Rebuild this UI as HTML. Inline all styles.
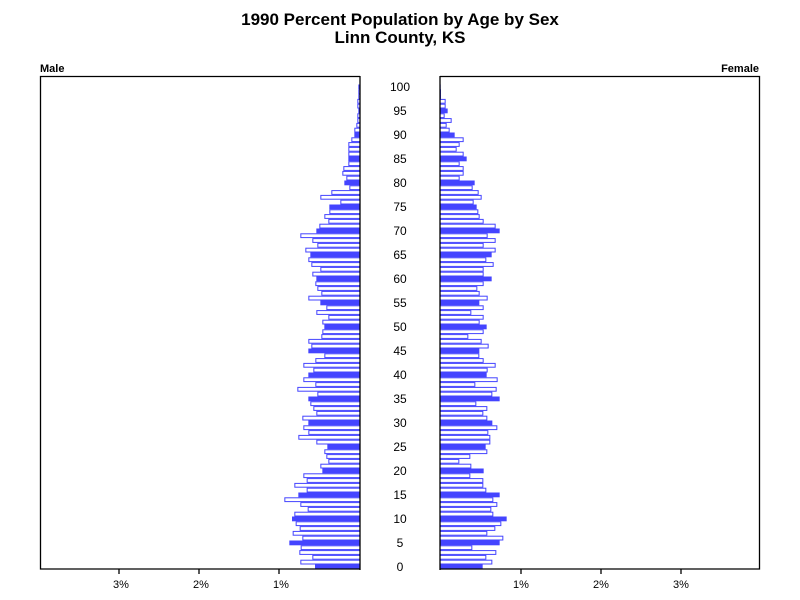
<!DOCTYPE html>
<html><head><meta charset="utf-8"><style>
body{margin:0;background:#fff;}
svg{display:block;font-family:"Liberation Sans",Arial,sans-serif;}
</style></head><body>
<svg id="s" width="800" height="600" xmlns="http://www.w3.org/2000/svg">
<rect width="800" height="600" fill="#fff"/>
<text x="400" y="25" text-anchor="middle" font-size="17" font-weight="bold">1990 Percent Population by Age by Sex</text>
<text x="400" y="43" text-anchor="middle" font-size="17" font-weight="bold">Linn County, KS</text>
<text x="40" y="72" font-size="11" font-weight="bold">Male</text>
<text x="759" y="72" font-size="11" font-weight="bold" text-anchor="end">Female</text>
<g id="bars"></g>
<g stroke="#000" stroke-width="1.3" fill="none">
<polyline points="360,76.5 40.5,76.5 40.5,569 360,569"/>
<line x1="360" y1="76" x2="360" y2="570"/>
<polyline points="440,76.5 759.5,76.5 759.5,569 440,569"/>
<line x1="440" y1="76" x2="440" y2="570"/>
<line x1="119" y1="569" x2="119" y2="574"/><line x1="199" y1="569" x2="199" y2="574"/><line x1="279" y1="569" x2="279" y2="574"/>
<line x1="521" y1="569" x2="521" y2="574"/><line x1="601" y1="569" x2="601" y2="574"/><line x1="681" y1="569" x2="681" y2="574"/>
</g>
<g font-size="11" text-anchor="middle">
<text x="121" y="588">3%</text><text x="201" y="588">2%</text><text x="281" y="588">1%</text>
<text x="521" y="588">1%</text><text x="601" y="588">2%</text><text x="681" y="588">3%</text>
</g>
<g id="ages" font-size="12" text-anchor="middle"></g>
</svg>
<script>
(function(){
var L=[135,91,127,88,92,58,97,68,89,77,66,73,113,91,43,85,110,73,110,100,157,151,175,169,163,172,139,85,115,100,115,97,139,130,121,115,142,82,136,100,115,130,100,136,163,115,124,115,154,157,163,157,175,139,169,151,115,154,142,136,139,127,151,124,115,121,106,142,127,91,139,148,175,163,178,178,211,151,184,238,223,229,217,220,235,235,235,235,235,244,253,253,259,262,262,265,262,262,265,265,265];
var R=[638,667,649,679,607,689,700,652,676,694,710,670,664,682,670,689,649,640,640,601,641,604,568,601,652,647,661,661,655,682,667,652,640,652,619,689,667,680,616,683,650,653,677,641,628,628,656,635,595,641,650,629,641,604,641,628,653,629,622,641,665,641,641,671,649,665,677,641,677,653,689,677,641,629,625,620,611,635,626,608,614,569,581,581,569,590,581,560,569,581,554,539,530,545,524,533,527,527,512,512,512];
var g=document.getElementById('bars'),h='';
for(var a=0;a<=100;a++){
 var yy=564.5-4.8*a,f=(a%5==0);
 var lx=270+L[a]/3, rx=270+R[a]/3;
 var lw=360-lx, rw=rx-440;
 if(f){h+='<rect x="'+lx+'" y="'+yy+'" width="'+lw+'" height="4.8" fill="#4444ff"/>';
       h+='<rect x="440" y="'+yy+'" width="'+rw+'" height="4.8" fill="#4444ff"/>';}
 else{h+='<rect x="'+(lx+0.5)+'" y="'+(yy+0.5)+'" width="'+Math.max(lw-0.5,0.5)+'" height="3.8" fill="#fff" stroke="#4444ff" stroke-width="1"/>';
      h+='<rect x="440" y="'+(yy+0.5)+'" width="'+Math.max(rw-0.5,0.5)+'" height="3.8" fill="#fff" stroke="#4444ff" stroke-width="1"/>';}
}
g.innerHTML=h;
var t='';
for(var a=0;a<=100;a+=5){t+='<text x="400" y="'+(571-4.8*a)+'">'+a+'</text>';}
document.getElementById('ages').innerHTML=t;
})();
</script>
</body></html>
